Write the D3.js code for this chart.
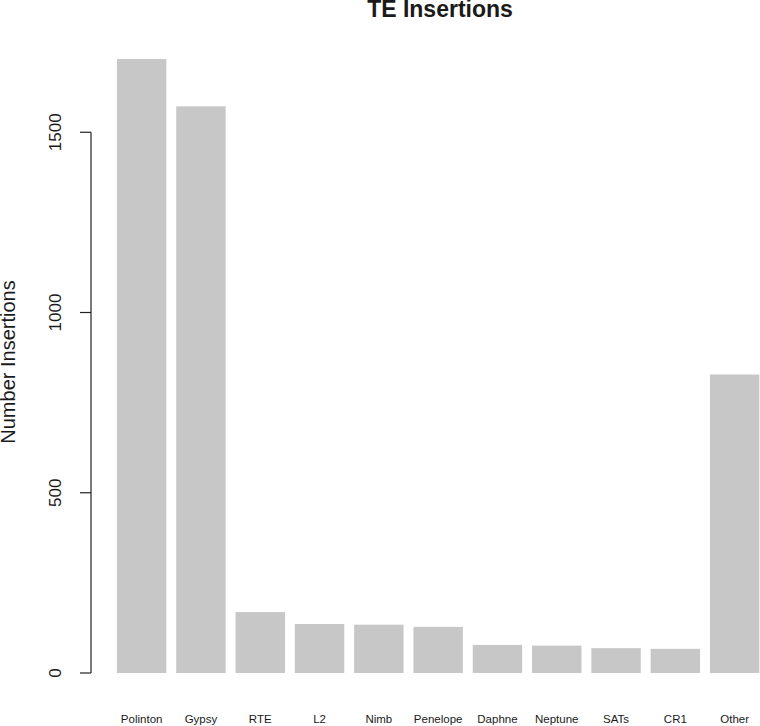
<!DOCTYPE html>
<html>
<head>
<meta charset="utf-8">
<script src="https://cdn.jsdelivr.net/npm/d3@7"></script>
<style>
  body { margin: 0; background: #fff; }
  text { font-family: "Liberation Sans", Arial, Helvetica, sans-serif; fill: #1a1a1a; }
</style>
</head>
<body>
<div id="chart"></div>
<script>
// TE families and insertion counts
const categories = ["Polinton", "Gypsy", "RTE", "L2", "Nimb", "Penelope", "Daphne", "Neptune", "SATs", "CR1", "Other"];
const insertions = [1703, 1572, 169, 136, 134, 128, 78, 76, 69, 67, 828];
const yTicks = [0, 500, 1000, 1500];

const width = 760;
const height = 726;

const svg = d3.select("#chart").append("svg")
  .attr("width", width)
  .attr("height", height);

// bar slots continue past the right edge, like the cropped R plot
const x = d3.scaleBand()
  .domain(categories)
  .range([112, 112 + categories.length * 59.3])
  .paddingInner(1 / 6)
  .paddingOuter(1 / 12);

const y = d3.scaleLinear()
  .domain([0, 1000])
  .range([673, 312.5]);

// bars
svg.selectAll("rect.bar")
  .data(insertions)
  .enter()
  .append("rect")
  .attr("class", "bar")
  .attr("x", (d, i) => x(categories[i]))
  .attr("y", d => y(d))
  .attr("width", x.bandwidth())
  .attr("height", d => y(0) - y(d))
  .attr("fill", "#c7c7c8");

// y axis, R style: line only between first and last tick
const axisX = 91;
const yAxis = svg.append("g");
yAxis.append("line")
  .attr("x1", axisX).attr("x2", axisX)
  .attr("y1", y(yTicks[0])).attr("y2", y(yTicks[yTicks.length - 1]))
  .attr("stroke", "#222").attr("stroke-width", 1.2);

yAxis.selectAll("line.tick")
  .data(yTicks)
  .enter()
  .append("line")
  .attr("class", "tick")
  .attr("x1", axisX - 11).attr("x2", axisX)
  .attr("y1", d => y(d)).attr("y2", d => y(d))
  .attr("stroke", "#222").attr("stroke-width", 1.2);

yAxis.selectAll("text")
  .data(yTicks)
  .enter()
  .append("text")
  .attr("transform", d => `translate(61, ${y(d)}) rotate(-90)`)
  .attr("text-anchor", "middle")
  .style("font-size", "17px")
  .text(d => d);

// category labels
svg.selectAll("text.cat")
  .data(categories)
  .enter()
  .append("text")
  .attr("class", "cat")
  .attr("x", d => x(d) + x.bandwidth() / 2)
  .attr("y", 723)
  .attr("text-anchor", "middle")
  .style("font-size", "11.5px")
  .text(d => d);

// axis title
svg.append("text")
  .attr("transform", "translate(15, 362) rotate(-90)")
  .attr("text-anchor", "middle")
  .style("font-size", "20px")
  .text("Number Insertions");

// main title
svg.append("text")
  .attr("x", 440)
  .attr("y", 17)
  .attr("text-anchor", "middle")
  .style("font-size", "23px")
  .style("font-weight", "bold")
  .text("TE Insertions");
</script>
</body>
</html>
